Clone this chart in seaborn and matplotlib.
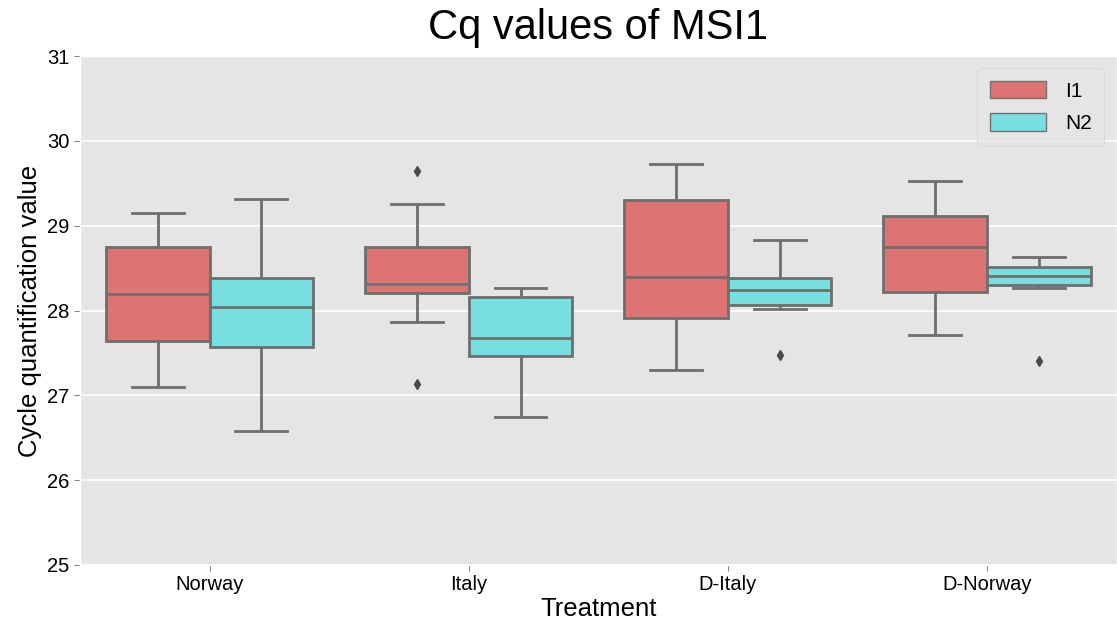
import matplotlib
matplotlib.use("Agg")
import matplotlib.pyplot as plt
import seaborn as sns
import pandas as pd

# Cq measurements per treatment and primer set
treatments = ["Norway", "Italy", "D-Italy", "D-Norway"]
primers = ["I1", "N2"]
primer_colors = ["#dd7473", "#77dfdf"]

norway_i1 = [27.10, 27.40, 27.64, 27.90, 28.19, 28.45, 28.745, 28.95, 29.15]
norway_n2 = [26.58, 27.20, 27.57, 27.80, 28.04, 28.20, 28.38, 28.80, 29.31]
italy_i1 = [27.13, 27.86, 28.21, 28.26, 28.31, 28.50, 28.745, 29.26, 29.64]
italy_n2 = [26.74, 27.20, 27.46, 27.58, 27.68, 27.95, 28.16, 28.22, 28.27]
ditaly_i1 = [27.30, 27.60, 27.915, 28.10, 28.40, 28.90, 29.30, 29.50, 29.73]
ditaly_n2 = [27.48, 28.02, 28.065, 28.15, 28.24, 28.30, 28.38, 28.60, 28.83]
dnorway_i1 = [27.71, 28.00, 28.22, 28.50, 28.745, 28.95, 29.11, 29.30, 29.53]
dnorway_n2 = [27.40, 28.27, 28.30, 28.36, 28.41, 28.46, 28.51, 28.58, 28.63]

series = {
    ("Norway", "I1"): norway_i1,
    ("Norway", "N2"): norway_n2,
    ("Italy", "I1"): italy_i1,
    ("Italy", "N2"): italy_n2,
    ("D-Italy", "I1"): ditaly_i1,
    ("D-Italy", "N2"): ditaly_n2,
    ("D-Norway", "I1"): dnorway_i1,
    ("D-Norway", "N2"): dnorway_n2,
}

rows = []
for (treat, primer), vals in series.items():
    for v in vals:
        rows.append({"Treatment": treat, "Primer": primer, "Cq": v})
df = pd.DataFrame(rows)

plt.style.use("ggplot")
plt.rcParams["font.family"] = ["Liberation Sans", "DejaVu Sans"]

fig = plt.figure(figsize=(11.17, 6.25), dpi=100)
ax = fig.add_axes([0.0716, 0.096, 0.928, 0.8144])

sns.boxplot(
    data=df, x="Treatment", y="Cq", hue="Primer",
    order=treatments, hue_order=primers,
    palette=primer_colors, saturation=1, width=0.8, linewidth=2,
    linecolor="#6e6e6e",
    flierprops=dict(marker="d", markersize=5, markerfacecolor="#4a4a4a",
                    markeredgecolor="#4a4a4a"),
    ax=ax,
)

ax.set_ylim(25, 31)
ax.set_yticks([25, 26, 27, 28, 29, 30, 31])
ax.set_facecolor("#e5e5e5")
ax.grid(axis="x", visible=False)
ax.grid(axis="y", color="white", linewidth=1.2)
ax.tick_params(axis="both", labelsize=14.5, colors="black", length=4,
               color="#888888")
ax.set_title("Cq values of MSI1", fontsize=30, color="black", pad=12)
ax.set_xlabel("Treatment", fontsize=18.5, color="black", labelpad=2)
ax.set_ylabel("Cycle quantification value", fontsize=18.5, color="black")

leg = ax.legend(loc="upper right", fontsize=15, frameon=True,
                facecolor="#e5e5e5", edgecolor="#d0d0d0",
                handlelength=2.7, handleheight=0.9, handletextpad=0.9,
                borderpad=0.6, labelspacing=0.6, borderaxespad=0.6)
for t in leg.get_texts():
    t.set_color("black")
for h in leg.legend_handles:
    h.set_linewidth(1)
    h.set_edgecolor("#707070")

fig.savefig("out.png", dpi=100)
